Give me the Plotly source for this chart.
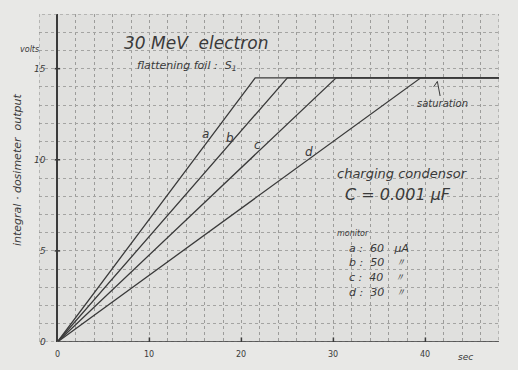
import plotly.graph_objects as go

# ---- data ----
curves = ["a", "b", "c", "d"]
monitor_uA = [60, 50, 40, 30]
t_saturation = [21.5, 25.0, 30.3, 39.5]   # sec where each line reaches saturation
v_saturation = 14.5                        # volts
t_end = 48.0
x_ticks = [0, 10, 20, 30, 40]
y_ticks = [0, 5, 10, 15]
label_pos_x = [16.1, 18.8, 21.8, 27.3]
label_pos_y = [11.4, 11.2, 10.8, 10.4]

ink = "#3a3a3a"
fig = go.Figure()
for name, ts in zip(curves, t_saturation):
    fig.add_trace(go.Scatter(
        x=[0, ts, t_end], y=[0, v_saturation, v_saturation],
        mode="lines", line=dict(color=ink, width=1.3), name=name,
        showlegend=False, hoverinfo="skip"))

W, H = 518, 370
L, R, T, B = 39, 499, 14, 342
def px(x): return (x - L) / (R - L)
def py(y): return (B - y) / (B - T)

font_hand = "DejaVu Sans"
ann = []
for name, lx, ly in zip(curves, label_pos_x, label_pos_y):
    ann.append(dict(x=lx, y=ly, xref="x", yref="y", text=name, showarrow=False,
                    font=dict(family=font_hand, size=12, color=ink, style="italic")))
for v in y_ticks:
    ann.append(dict(x=-1.0, y=v, xref="x", yref="y", text=str(v), showarrow=False,
                    xanchor="right", font=dict(family=font_hand, size=9, color=ink, style="italic")))
for v in x_ticks:
    ann.append(dict(x=v, y=py(348), xref="x", yref="paper", text=str(v), showarrow=False,
                    yanchor="top", font=dict(family=font_hand, size=8, color=ink)))

def txt(xp, yp, s, size, anchor="center", italic=True, angle=0):
    ann.append(dict(x=xp, y=yp, xref="paper", yref="paper", text=s, showarrow=False,
                    xanchor=anchor, yanchor="middle", textangle=angle,
                    font=dict(family=font_hand, size=size, color=ink,
                              style="italic" if italic else "normal")))

txt(px(196), py(43), "30 MeV  electron", 17)
txt(px(187), py(66), "flattening foil :  S<sub>1</sub>", 11)
txt(px(402), py(173), "charging condensor", 13)
txt(px(398), py(194), "C = 0.001 μF", 16)
txt(px(335), py(233), "monitor", 8, anchor="left")
for i, (name, m) in enumerate(zip(curves, monitor_uA)):
    unit = "μA" if i == 0 else "〃"
    txt(px(347), py(248 + i * 14.7), f"{name} :  {m}   {unit}", 11, anchor="left")
txt(px(442), py(103), "saturation", 10)
txt(px(29), py(50), "volts", 8)
txt(px(465), py(357), "sec", 9)
txt(px(17), py(170), "integral · dosimeter  output", 11, angle=-90)

fig.update_layout(
    width=W, height=H,
    margin=dict(l=L, r=W - R, t=T, b=H - B),
    paper_bgcolor="#e8e8e6", plot_bgcolor="#e0e0de",
    annotations=ann,
    xaxis=dict(range=[-2, 48], tickmode="linear", tick0=0, dtick=2, showticklabels=False,
               ticks="", showgrid=True, gridcolor="#9c9c9a", gridwidth=1, griddash="dot",
               zeroline=True, zerolinecolor=ink, zerolinewidth=1.6,
               showline=False, fixedrange=True),
    yaxis=dict(range=[0, 18], tickmode="linear", tick0=0, dtick=1, showticklabels=False,
               ticks="", showgrid=True, gridcolor="#a4a4a2", gridwidth=1, griddash="dot",
               zeroline=False, showline=False, fixedrange=True),
    shapes=[
        dict(type="rect", xref="x", yref="y", x0=-2, x1=48, y0=0, y1=18,
             line=dict(color="#8a8a88", width=1, dash="dot")),
        dict(type="line", xref="x", yref="y", x0=0, x1=48, y0=0, y1=0,
             line=dict(color=ink, width=1.6)),
        # small hooked arrow pointing at the saturation line
        dict(type="line", xref="x", yref="y", x0=41.3, x1=41.6, y0=14.3, y1=13.5,
             line=dict(color=ink, width=1)),
        dict(type="line", xref="x", yref="y", x0=41.3, x1=40.9, y0=14.3, y1=14.0,
             line=dict(color=ink, width=1)),
    ] + [dict(type="line", xref="x", yref="y", x0=v, x1=v, y0=-0.25, y1=0.25,
              line=dict(color=ink, width=1.5)) for v in x_ticks[1:]]
      + [dict(type="line", xref="x", yref="y", x0=-0.3, x1=0.3, y0=v, y1=v,
              line=dict(color=ink, width=1.5)) for v in y_ticks[1:]],
)
fig.write_html("out.html", config={"displayModeBar": False},
               post_script="document.body.style.margin='0';document.body.style.background='#e8e8e6';")
